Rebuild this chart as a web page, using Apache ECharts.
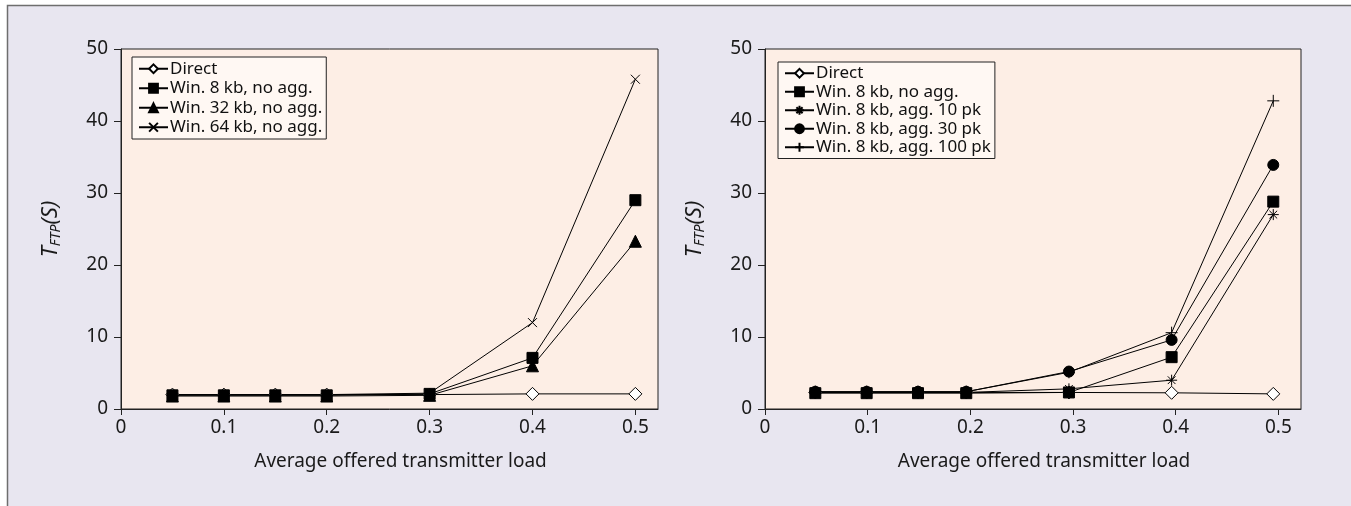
<!DOCTYPE html>
<html>
<head>
<meta charset="utf-8">
<script src="https://cdn.jsdelivr.net/npm/echarts@6/dist/echarts.min.js"></script>
<style>
  html, body { margin: 0; padding: 0; background: #fff; }
  #chart { width: 1351px; height: 506px; }
</style>
</head>
<body>
<div id="chart"></div>
<script>
// left panel: window size, no aggregation
const xLeft = [0.05, 0.1, 0.15, 0.2, 0.3, 0.4, 0.5];
const leftDirect = [2.0, 2.0, 2.0, 2.0, 2.0, 2.1, 2.1];
const leftWin8 = [1.9, 1.9, 1.9, 1.9, 2.1, 7.1, 29.0];
const leftWin32 = [1.8, 1.8, 1.8, 1.8, 1.9, 6.0, 23.3];
const leftWin64 = [2.0, 2.0, 2.0, 2.0, 2.2, 12.0, 45.8];

// right panel: 8 kb window, aggregation
const xRight = [0.049, 0.099, 0.149, 0.196, 0.296, 0.396, 0.495];
const rightDirect = [2.3, 2.3, 2.3, 2.3, 2.3, 2.25, 2.1];
const rightWin8 = [2.2, 2.2, 2.2, 2.2, 2.3, 7.2, 28.8];
const rightAgg10 = [2.3, 2.3, 2.3, 2.3, 2.8, 4.0, 27.0];
const rightAgg30 = [2.4, 2.4, 2.4, 2.4, 5.2, 9.6, 33.9];
const rightAgg100 = [2.4, 2.4, 2.4, 2.4, 5.1, 10.6, 42.8];

const xTicks = [0, 0.1, 0.2, 0.3, 0.4, 0.5];

const leftNames = ['Direct', 'Win. 8 kb, no agg.', 'Win. 32 kb, no agg.', 'Win. 64 kb, no agg.'];
const rightNames = ['Direct', 'Win. 8 kb, no agg.', 'Win. 8 kb, agg. 10 pk', 'Win. 8 kb, agg. 30 pk', 'Win. 8 kb, agg. 100 pk'];

const FONT = 'Noto Sans';
const crossPath = 'path://M0,0L10,10M10,0L0,10';
const plusPath = 'path://M5,0L5,10M0,5L10,5';
const starPath = 'path://M5,0L5,10M0,5L10,5M1.5,1.5L8.5,8.5M8.5,1.5L1.5,8.5';

function pair(xs, ys) {
  return xs.map((x, i) => [x, ys[i]]);
}

function line(name, idx, xs, ys, symbol, size, fill) {
  return {
    name: name,
    type: 'line',
    xAxisIndex: idx,
    yAxisIndex: idx,
    data: pair(xs, ys),
    symbol: symbol,
    symbolSize: size,
    showAllSymbol: true,
    lineStyle: { color: '#000', width: 1 },
    itemStyle: { color: fill || '#000', borderColor: '#000', borderWidth: 1 },
    emphasis: { disabled: true }
  };
}

function xAxis(idx) {
  return {
    type: 'value',
    gridIndex: idx,
    min: 0,
    max: 0.522,
    name: 'Average offered transmitter load',
    nameLocation: 'middle',
    nameGap: 43,
    nameTextStyle: { fontFamily: FONT, fontSize: 19, color: '#1a1a1a', padding: [0, 0, 0, 22] },
    axisLine: { show: true, lineStyle: { color: '#222', width: 1 } },
    axisTick: { show: true, length: 6, customValues: xTicks, lineStyle: { color: '#222' } },
    axisLabel: {
      customValues: xTicks,
      fontFamily: FONT, fontSize: 19, color: '#1a1a1a', margin: 9,
      formatter: v => (v === 0 ? '0' : String(v))
    },
    splitLine: { show: false }
  };
}

function yAxis(idx) {
  return {
    type: 'value',
    gridIndex: idx,
    min: 0,
    max: 50,
    interval: 10,
    name: '{t|T}{s|FTP}{p|(S)}',
    nameLocation: 'middle',
    nameRotate: 90,
    nameGap: 58,
    nameTextStyle: {
      rich: {
        t: { fontFamily: FONT, fontStyle: 'italic', fontSize: 22, color: '#1a1a1a' },
        s: { fontFamily: FONT, fontStyle: 'italic', fontSize: 14, color: '#1a1a1a', padding: [10, 0, 0, 0] },
        p: { fontFamily: FONT, fontStyle: 'italic', fontSize: 22, color: '#1a1a1a' }
      }
    },
    axisLine: { show: true, lineStyle: { color: '#222', width: 1 } },
    axisTick: { show: true, length: 7, lineStyle: { color: '#222' } },
    axisLabel: { fontFamily: FONT, fontSize: 19, color: '#1a1a1a', margin: 13 },
    splitLine: { show: false }
  };
}

function legend(names, left, top, pitch) {
  return {
    data: names,
    orient: 'vertical',
    left: left,
    top: top,
    padding: [2, 4, 2, 6],
    itemGap: 0,
    itemWidth: 29,
    itemHeight: 11,
    backgroundColor: '#fff8f3',
    borderColor: '#222',
    borderWidth: 1,
    borderRadius: 0,
    selectedMode: false,
    textStyle: { fontFamily: FONT, fontSize: 17, color: '#111', lineHeight: pitch, padding: [0, 0, 0, -3] }
  };
}

const chart = echarts.init(document.getElementById('chart'), null, { renderer: 'canvas' });

const option = {
  animation: false,
  backgroundColor: '#ffffff',
  graphic: [{
    type: 'rect',
    shape: { x: 7.5, y: 5.5, width: 1400, height: 600 },
    style: { fill: '#e8e6f0', stroke: '#6e6e6e', lineWidth: 1.5 },
    z: -10
  }],
  grid: [
    { left: 121, top: 49, width: 537, height: 360, show: true, backgroundColor: '#fdeee5', borderColor: '#222', borderWidth: 1 },
    { left: 765, top: 49, width: 536, height: 360, show: true, backgroundColor: '#fdeee5', borderColor: '#222', borderWidth: 1 }
  ],
  xAxis: [xAxis(0), xAxis(1)],
  yAxis: [yAxis(0), yAxis(1)],
  legend: [
    legend(leftNames, 132, 57, 19.5),
    legend(rightNames, 778, 62, 18.5)
  ],
  series: [
    line(leftNames[0], 0, xLeft, leftDirect, 'diamond', 13, '#fff'),
    line(leftNames[1], 0, xLeft, leftWin8, 'rect', 11),
    line(leftNames[2], 0, xLeft, leftWin32, 'triangle', 12),
    line(leftNames[3], 0, xLeft, leftWin64, crossPath, 9),
    line(rightNames[0], 1, xRight, rightDirect, 'diamond', 13, '#fff'),
    line(rightNames[1], 1, xRight, rightWin8, 'rect', 11),
    line(rightNames[2], 1, xRight, rightAgg10, starPath, 11),
    line(rightNames[3], 1, xRight, rightAgg30, 'circle', 11),
    line(rightNames[4], 1, xRight, rightAgg100, plusPath, 12)
  ]
};

chart.setOption(option);
</script>
</body>
</html>
